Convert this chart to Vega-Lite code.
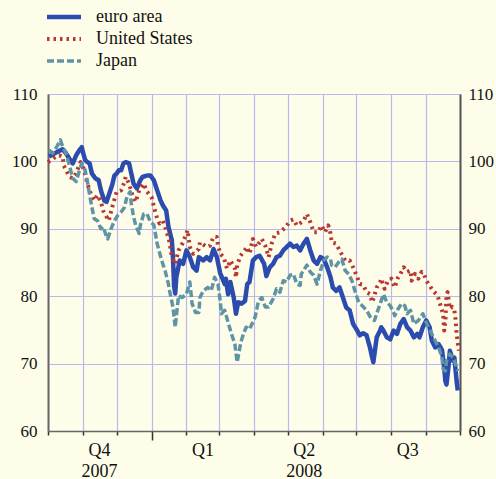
{
  "$schema": "https://vega.github.io/schema/vega-lite/v6.json",
  "width": 412,
  "height": 337,
  "autosize": {"type": "none"},
  "padding": {"left": 48, "top": 94, "right": 36, "bottom": 48},
  "background": "#fdfde9",
  "config": {"view": {"stroke": null, "fill": "#fdfde9"}},
  "data": {"values": [
{"series":"euro area","date":"2007-10-02","value":100.7},{"series":"euro area","date":"2007-10-09","value":101.4},{"series":"euro area","date":"2007-10-14","value":101.8},{"series":"euro area","date":"2007-10-17","value":101.2},{"series":"euro area","date":"2007-10-20","value":100.4},{"series":"euro area","date":"2007-10-23","value":99.7},{"series":"euro area","date":"2007-10-26","value":100.9},{"series":"euro area","date":"2007-10-29","value":101.7},{"series":"euro area","date":"2007-10-31","value":102.1},{"series":"euro area","date":"2007-11-01","value":101.4},{"series":"euro area","date":"2007-11-03","value":100.2},{"series":"euro area","date":"2007-11-05","value":99.9},{"series":"euro area","date":"2007-11-07","value":99.7},{"series":"euro area","date":"2007-11-09","value":98.2},{"series":"euro area","date":"2007-11-12","value":97.5},{"series":"euro area","date":"2007-11-15","value":97.2},{"series":"euro area","date":"2007-11-17","value":95.7},{"series":"euro area","date":"2007-11-20","value":94.2},{"series":"euro area","date":"2007-11-22","value":94.0},{"series":"euro area","date":"2007-11-24","value":95.0},{"series":"euro area","date":"2007-11-27","value":96.5},{"series":"euro area","date":"2007-11-29","value":97.9},{"series":"euro area","date":"2007-12-01","value":98.2},{"series":"euro area","date":"2007-12-03","value":98.7},{"series":"euro area","date":"2007-12-05","value":98.7},{"series":"euro area","date":"2007-12-07","value":99.7},{"series":"euro area","date":"2007-12-09","value":99.9},{"series":"euro area","date":"2007-12-12","value":99.7},{"series":"euro area","date":"2007-12-14","value":98.2},{"series":"euro area","date":"2007-12-16","value":96.7},{"series":"euro area","date":"2007-12-19","value":96.0},{"series":"euro area","date":"2007-12-22","value":97.2},{"series":"euro area","date":"2007-12-24","value":97.7},{"series":"euro area","date":"2007-12-28","value":97.9},{"series":"euro area","date":"2007-12-31","value":97.9},
{"series":"euro area","date":"2008-01-03","value":97.2},{"series":"euro area","date":"2008-01-06","value":95.7},{"series":"euro area","date":"2008-01-09","value":94.2},{"series":"euro area","date":"2008-01-11","value":93.5},{"series":"euro area","date":"2008-01-14","value":92.7},{"series":"euro area","date":"2008-01-16","value":90.3},{"series":"euro area","date":"2008-01-19","value":88.3},{"series":"euro area","date":"2008-01-20","value":85.8},{"series":"euro area","date":"2008-01-21","value":81.5},{"series":"euro area","date":"2008-01-22","value":80.4},{"series":"euro area","date":"2008-01-23","value":82.8},{"series":"euro area","date":"2008-01-26","value":85.3},{"series":"euro area","date":"2008-01-29","value":84.8},{"series":"euro area","date":"2008-02-01","value":86.8},{"series":"euro area","date":"2008-02-04","value":85.8},{"series":"euro area","date":"2008-02-07","value":84.3},{"series":"euro area","date":"2008-02-10","value":83.8},{"series":"euro area","date":"2008-02-12","value":85.8},{"series":"euro area","date":"2008-02-16","value":85.3},{"series":"euro area","date":"2008-02-19","value":85.8},{"series":"euro area","date":"2008-02-22","value":85.3},{"series":"euro area","date":"2008-02-25","value":87.0},{"series":"euro area","date":"2008-02-28","value":85.8},{"series":"euro area","date":"2008-03-02","value":83.4},{"series":"euro area","date":"2008-03-04","value":82.6},{"series":"euro area","date":"2008-03-06","value":81.8},{"series":"euro area","date":"2008-03-07","value":82.6},{"series":"euro area","date":"2008-03-09","value":80.3},{"series":"euro area","date":"2008-03-11","value":82.1},{"series":"euro area","date":"2008-03-14","value":79.8},{"series":"euro area","date":"2008-03-16","value":77.4},{"series":"euro area","date":"2008-03-18","value":79.1},{"series":"euro area","date":"2008-03-21","value":78.9},{"series":"euro area","date":"2008-03-24","value":79.3},{"series":"euro area","date":"2008-03-26","value":81.8},{"series":"euro area","date":"2008-03-28","value":82.1},{"series":"euro area","date":"2008-03-31","value":85.3},
{"series":"euro area","date":"2008-04-03","value":85.8},{"series":"euro area","date":"2008-04-06","value":86.0},{"series":"euro area","date":"2008-04-10","value":84.8},{"series":"euro area","date":"2008-04-12","value":83.0},{"series":"euro area","date":"2008-04-15","value":84.3},{"series":"euro area","date":"2008-04-18","value":84.8},{"series":"euro area","date":"2008-04-21","value":85.8},{"series":"euro area","date":"2008-04-24","value":86.0},{"series":"euro area","date":"2008-04-27","value":86.8},{"series":"euro area","date":"2008-04-30","value":87.3},{"series":"euro area","date":"2008-05-03","value":87.8},{"series":"euro area","date":"2008-05-06","value":87.3},{"series":"euro area","date":"2008-05-09","value":87.5},{"series":"euro area","date":"2008-05-12","value":86.8},{"series":"euro area","date":"2008-05-15","value":87.8},{"series":"euro area","date":"2008-05-18","value":88.5},{"series":"euro area","date":"2008-05-21","value":86.8},{"series":"euro area","date":"2008-05-24","value":85.3},{"series":"euro area","date":"2008-05-27","value":84.8},{"series":"euro area","date":"2008-05-30","value":85.8},{"series":"euro area","date":"2008-06-02","value":85.5},{"series":"euro area","date":"2008-06-05","value":84.3},{"series":"euro area","date":"2008-06-08","value":82.8},{"series":"euro area","date":"2008-06-10","value":81.3},{"series":"euro area","date":"2008-06-13","value":80.8},{"series":"euro area","date":"2008-06-16","value":81.3},{"series":"euro area","date":"2008-06-19","value":79.8},{"series":"euro area","date":"2008-06-22","value":78.3},{"series":"euro area","date":"2008-06-25","value":77.9},{"series":"euro area","date":"2008-06-28","value":75.9},
{"series":"euro area","date":"2008-07-01","value":75.1},{"series":"euro area","date":"2008-07-04","value":74.2},{"series":"euro area","date":"2008-07-07","value":74.5},{"series":"euro area","date":"2008-07-10","value":74.2},{"series":"euro area","date":"2008-07-13","value":72.4},{"series":"euro area","date":"2008-07-15","value":70.9},{"series":"euro area","date":"2008-07-16","value":70.2},{"series":"euro area","date":"2008-07-17","value":71.4},{"series":"euro area","date":"2008-07-19","value":73.9},{"series":"euro area","date":"2008-07-22","value":74.9},{"series":"euro area","date":"2008-07-23","value":75.4},{"series":"euro area","date":"2008-07-25","value":74.9},{"series":"euro area","date":"2008-07-28","value":73.9},{"series":"euro area","date":"2008-07-31","value":73.6},{"series":"euro area","date":"2008-08-03","value":74.9},{"series":"euro area","date":"2008-08-06","value":74.4},{"series":"euro area","date":"2008-08-09","value":75.9},{"series":"euro area","date":"2008-08-12","value":76.6},{"series":"euro area","date":"2008-08-15","value":75.4},{"series":"euro area","date":"2008-08-18","value":74.9},{"series":"euro area","date":"2008-08-21","value":73.9},{"series":"euro area","date":"2008-08-24","value":74.4},{"series":"euro area","date":"2008-08-26","value":73.9},{"series":"euro area","date":"2008-08-29","value":75.4},{"series":"euro area","date":"2008-09-01","value":76.4},{"series":"euro area","date":"2008-09-04","value":75.4},{"series":"euro area","date":"2008-09-06","value":73.4},{"series":"euro area","date":"2008-09-09","value":72.4},{"series":"euro area","date":"2008-09-12","value":72.9},{"series":"euro area","date":"2008-09-15","value":72.0},{"series":"euro area","date":"2008-09-17","value":69.4},{"series":"euro area","date":"2008-09-18","value":67.4},{"series":"euro area","date":"2008-09-19","value":66.9},{"series":"euro area","date":"2008-09-21","value":69.9},{"series":"euro area","date":"2008-09-22","value":71.9},{"series":"euro area","date":"2008-09-25","value":70.4},{"series":"euro area","date":"2008-09-26","value":70.9},{"series":"euro area","date":"2008-09-28","value":67.4},{"series":"euro area","date":"2008-09-29","value":66.0},
{"series":"United States","date":"2007-10-01","value":99.9},{"series":"United States","date":"2007-10-08","value":100.7},{"series":"United States","date":"2007-10-11","value":100.9},{"series":"United States","date":"2007-10-14","value":100.7},{"series":"United States","date":"2007-10-15","value":99.4},{"series":"United States","date":"2007-10-20","value":97.7},{"series":"United States","date":"2007-10-23","value":97.5},{"series":"United States","date":"2007-10-26","value":98.2},{"series":"United States","date":"2007-10-27","value":98.7},{"series":"United States","date":"2007-10-30","value":99.9},{"series":"United States","date":"2007-11-02","value":98.7},{"series":"United States","date":"2007-11-05","value":96.7},{"series":"United States","date":"2007-11-08","value":95.2},{"series":"United States","date":"2007-11-11","value":94.2},{"series":"United States","date":"2007-11-14","value":95.0},{"series":"United States","date":"2007-11-17","value":94.0},{"series":"United States","date":"2007-11-19","value":92.7},{"series":"United States","date":"2007-11-22","value":91.8},{"series":"United States","date":"2007-11-24","value":91.2},{"series":"United States","date":"2007-11-27","value":93.2},{"series":"United States","date":"2007-12-01","value":95.5},{"series":"United States","date":"2007-12-05","value":95.7},{"series":"United States","date":"2007-12-08","value":97.0},{"series":"United States","date":"2007-12-09","value":97.7},{"series":"United States","date":"2007-12-12","value":96.7},{"series":"United States","date":"2007-12-15","value":95.0},{"series":"United States","date":"2007-12-18","value":94.0},{"series":"United States","date":"2007-12-21","value":95.7},{"series":"United States","date":"2007-12-25","value":96.7},{"series":"United States","date":"2007-12-28","value":95.5},
{"series":"United States","date":"2008-01-01","value":94.7},{"series":"United States","date":"2008-01-04","value":92.7},{"series":"United States","date":"2008-01-06","value":91.5},{"series":"United States","date":"2008-01-08","value":90.8},{"series":"United States","date":"2008-01-11","value":91.2},{"series":"United States","date":"2008-01-14","value":89.8},{"series":"United States","date":"2008-01-17","value":88.0},{"series":"United States","date":"2008-01-19","value":85.8},{"series":"United States","date":"2008-01-22","value":84.8},{"series":"United States","date":"2008-01-25","value":86.8},{"series":"United States","date":"2008-01-29","value":88.0},{"series":"United States","date":"2008-02-02","value":89.8},{"series":"United States","date":"2008-02-04","value":87.3},{"series":"United States","date":"2008-02-07","value":86.3},{"series":"United States","date":"2008-02-12","value":87.0},{"series":"United States","date":"2008-02-13","value":88.0},{"series":"United States","date":"2008-02-19","value":87.3},{"series":"United States","date":"2008-02-22","value":87.5},{"series":"United States","date":"2008-02-25","value":88.8},{"series":"United States","date":"2008-02-28","value":88.8},{"series":"United States","date":"2008-02-29","value":87.5},{"series":"United States","date":"2008-03-02","value":86.3},{"series":"United States","date":"2008-03-05","value":85.8},{"series":"United States","date":"2008-03-08","value":84.1},{"series":"United States","date":"2008-03-11","value":85.3},{"series":"United States","date":"2008-03-15","value":84.1},{"series":"United States","date":"2008-03-16","value":82.8},{"series":"United States","date":"2008-03-17","value":84.6},{"series":"United States","date":"2008-03-20","value":86.0},{"series":"United States","date":"2008-03-26","value":87.3},{"series":"United States","date":"2008-03-28","value":86.3},{"series":"United States","date":"2008-03-31","value":88.5},
{"series":"United States","date":"2008-04-03","value":87.3},{"series":"United States","date":"2008-04-08","value":88.5},{"series":"United States","date":"2008-04-11","value":87.5},{"series":"United States","date":"2008-04-14","value":85.8},{"series":"United States","date":"2008-04-17","value":88.0},{"series":"United States","date":"2008-04-20","value":89.3},{"series":"United States","date":"2008-04-24","value":89.5},{"series":"United States","date":"2008-04-29","value":90.2},{"series":"United States","date":"2008-05-03","value":91.2},{"series":"United States","date":"2008-05-06","value":91.4},{"series":"United States","date":"2008-05-09","value":90.5},{"series":"United States","date":"2008-05-15","value":91.2},{"series":"United States","date":"2008-05-18","value":92.2},{"series":"United States","date":"2008-05-21","value":91.0},{"series":"United States","date":"2008-05-24","value":89.5},{"series":"United States","date":"2008-05-28","value":89.5},{"series":"United States","date":"2008-05-31","value":90.5},{"series":"United States","date":"2008-06-03","value":89.5},{"series":"United States","date":"2008-06-06","value":90.5},{"series":"United States","date":"2008-06-08","value":89.3},{"series":"United States","date":"2008-06-09","value":88.0},{"series":"United States","date":"2008-06-13","value":87.8},{"series":"United States","date":"2008-06-16","value":86.8},{"series":"United States","date":"2008-06-21","value":85.3},{"series":"United States","date":"2008-06-25","value":85.3},{"series":"United States","date":"2008-06-28","value":84.3},
{"series":"United States","date":"2008-07-01","value":83.1},{"series":"United States","date":"2008-07-04","value":81.8},{"series":"United States","date":"2008-07-07","value":81.7},{"series":"United States","date":"2008-07-10","value":80.6},{"series":"United States","date":"2008-07-13","value":80.3},{"series":"United States","date":"2008-07-15","value":79.1},{"series":"United States","date":"2008-07-17","value":80.1},{"series":"United States","date":"2008-07-19","value":81.3},{"series":"United States","date":"2008-07-22","value":82.1},{"series":"United States","date":"2008-07-23","value":82.6},{"series":"United States","date":"2008-07-26","value":81.1},{"series":"United States","date":"2008-07-29","value":82.3},{"series":"United States","date":"2008-08-01","value":82.6},{"series":"United States","date":"2008-08-04","value":81.3},{"series":"United States","date":"2008-08-07","value":82.8},{"series":"United States","date":"2008-08-09","value":83.3},{"series":"United States","date":"2008-08-12","value":84.3},{"series":"United States","date":"2008-08-15","value":83.6},{"series":"United States","date":"2008-08-18","value":83.8},{"series":"United States","date":"2008-08-19","value":82.3},{"series":"United States","date":"2008-08-22","value":83.3},{"series":"United States","date":"2008-08-25","value":82.6},{"series":"United States","date":"2008-08-28","value":83.6},{"series":"United States","date":"2008-08-30","value":83.3},{"series":"United States","date":"2008-09-01","value":82.3},{"series":"United States","date":"2008-09-04","value":81.6},{"series":"United States","date":"2008-09-07","value":80.8},{"series":"United States","date":"2008-09-10","value":80.3},{"series":"United States","date":"2008-09-12","value":79.6},{"series":"United States","date":"2008-09-14","value":78.4},{"series":"United States","date":"2008-09-16","value":77.4},{"series":"United States","date":"2008-09-17","value":74.9},{"series":"United States","date":"2008-09-18","value":76.4},{"series":"United States","date":"2008-09-19","value":80.3},{"series":"United States","date":"2008-09-20","value":80.6},{"series":"United States","date":"2008-09-22","value":78.1},{"series":"United States","date":"2008-09-24","value":78.4},{"series":"United States","date":"2008-09-26","value":77.9},{"series":"United States","date":"2008-09-27","value":76.6},{"series":"United States","date":"2008-09-28","value":74.4},{"series":"United States","date":"2008-09-29","value":73.1},{"series":"United States","date":"2008-09-30","value":71.9},
{"series":"Japan","date":"2007-10-02","value":101.7},{"series":"Japan","date":"2007-10-05","value":101.2},{"series":"Japan","date":"2007-10-09","value":102.2},{"series":"Japan","date":"2007-10-12","value":103.2},{"series":"Japan","date":"2007-10-14","value":102.2},{"series":"Japan","date":"2007-10-17","value":101.2},{"series":"Japan","date":"2007-10-20","value":99.4},{"series":"Japan","date":"2007-10-23","value":97.5},{"series":"Japan","date":"2007-10-26","value":97.0},{"series":"Japan","date":"2007-10-29","value":98.7},{"series":"Japan","date":"2007-10-31","value":99.7},{"series":"Japan","date":"2007-11-03","value":98.7},{"series":"Japan","date":"2007-11-05","value":97.0},{"series":"Japan","date":"2007-11-07","value":95.0},{"series":"Japan","date":"2007-11-09","value":93.2},{"series":"Japan","date":"2007-11-11","value":91.5},{"series":"Japan","date":"2007-11-14","value":91.2},{"series":"Japan","date":"2007-11-17","value":90.0},{"series":"Japan","date":"2007-11-19","value":90.3},{"series":"Japan","date":"2007-11-21","value":89.3},{"series":"Japan","date":"2007-11-23","value":88.5},{"series":"Japan","date":"2007-11-26","value":90.0},{"series":"Japan","date":"2007-11-29","value":91.2},{"series":"Japan","date":"2007-12-02","value":92.0},{"series":"Japan","date":"2007-12-05","value":92.5},{"series":"Japan","date":"2007-12-08","value":93.2},{"series":"Japan","date":"2007-12-10","value":94.7},{"series":"Japan","date":"2007-12-13","value":95.5},{"series":"Japan","date":"2007-12-14","value":93.7},{"series":"Japan","date":"2007-12-16","value":91.8},{"series":"Japan","date":"2007-12-18","value":90.5},{"series":"Japan","date":"2007-12-21","value":89.3},{"series":"Japan","date":"2007-12-22","value":90.5},{"series":"Japan","date":"2007-12-25","value":92.2},{"series":"Japan","date":"2007-12-28","value":92.2},{"series":"Japan","date":"2007-12-31","value":91.0},
{"series":"Japan","date":"2008-01-03","value":90.6},{"series":"Japan","date":"2008-01-06","value":87.8},{"series":"Japan","date":"2008-01-08","value":86.5},{"series":"Japan","date":"2008-01-10","value":85.3},{"series":"Japan","date":"2008-01-13","value":83.8},{"series":"Japan","date":"2008-01-16","value":81.8},{"series":"Japan","date":"2008-01-17","value":80.8},{"series":"Japan","date":"2008-01-20","value":78.4},{"series":"Japan","date":"2008-01-22","value":75.4},{"series":"Japan","date":"2008-01-25","value":80.1},{"series":"Japan","date":"2008-01-28","value":79.8},{"series":"Japan","date":"2008-02-01","value":80.3},{"series":"Japan","date":"2008-02-04","value":82.1},{"series":"Japan","date":"2008-02-06","value":78.9},{"series":"Japan","date":"2008-02-09","value":77.6},{"series":"Japan","date":"2008-02-12","value":77.6},{"series":"Japan","date":"2008-02-13","value":79.8},{"series":"Japan","date":"2008-02-16","value":80.8},{"series":"Japan","date":"2008-02-20","value":81.3},{"series":"Japan","date":"2008-02-23","value":80.8},{"series":"Japan","date":"2008-02-26","value":82.8},{"series":"Japan","date":"2008-02-29","value":81.8},{"series":"Japan","date":"2008-03-02","value":79.3},{"series":"Japan","date":"2008-03-03","value":77.4},{"series":"Japan","date":"2008-03-06","value":77.9},{"series":"Japan","date":"2008-03-09","value":76.1},{"series":"Japan","date":"2008-03-12","value":74.4},{"series":"Japan","date":"2008-03-15","value":72.9},{"series":"Japan","date":"2008-03-17","value":70.2},{"series":"Japan","date":"2008-03-20","value":72.9},{"series":"Japan","date":"2008-03-22","value":74.1},{"series":"Japan","date":"2008-03-25","value":75.4},{"series":"Japan","date":"2008-03-28","value":75.1},
{"series":"Japan","date":"2008-04-02","value":76.9},{"series":"Japan","date":"2008-04-05","value":79.3},{"series":"Japan","date":"2008-04-08","value":79.8},{"series":"Japan","date":"2008-04-11","value":78.4},{"series":"Japan","date":"2008-04-14","value":78.4},{"series":"Japan","date":"2008-04-18","value":79.6},{"series":"Japan","date":"2008-04-21","value":81.1},{"series":"Japan","date":"2008-04-24","value":80.6},{"series":"Japan","date":"2008-04-27","value":82.3},{"series":"Japan","date":"2008-04-30","value":82.1},{"series":"Japan","date":"2008-05-03","value":83.1},{"series":"Japan","date":"2008-05-06","value":83.3},{"series":"Japan","date":"2008-05-09","value":81.8},{"series":"Japan","date":"2008-05-12","value":81.6},{"series":"Japan","date":"2008-05-13","value":83.3},{"series":"Japan","date":"2008-05-18","value":84.6},{"series":"Japan","date":"2008-05-21","value":83.6},{"series":"Japan","date":"2008-05-24","value":83.1},{"series":"Japan","date":"2008-05-27","value":81.8},{"series":"Japan","date":"2008-05-30","value":83.8},{"series":"Japan","date":"2008-06-02","value":85.3},{"series":"Japan","date":"2008-06-05","value":85.8},{"series":"Japan","date":"2008-06-08","value":85.5},{"series":"Japan","date":"2008-06-09","value":84.6},{"series":"Japan","date":"2008-06-12","value":84.3},{"series":"Japan","date":"2008-06-15","value":85.0},{"series":"Japan","date":"2008-06-18","value":85.5},{"series":"Japan","date":"2008-06-21","value":83.8},{"series":"Japan","date":"2008-06-24","value":83.3},{"series":"Japan","date":"2008-06-27","value":82.3},{"series":"Japan","date":"2008-06-30","value":80.6},
{"series":"Japan","date":"2008-07-03","value":79.1},{"series":"Japan","date":"2008-07-06","value":78.6},{"series":"Japan","date":"2008-07-10","value":77.9},{"series":"Japan","date":"2008-07-13","value":77.0},{"series":"Japan","date":"2008-07-15","value":76.6},{"series":"Japan","date":"2008-07-17","value":76.4},{"series":"Japan","date":"2008-07-20","value":77.9},{"series":"Japan","date":"2008-07-23","value":79.3},{"series":"Japan","date":"2008-07-25","value":80.3},{"series":"Japan","date":"2008-07-28","value":79.1},{"series":"Japan","date":"2008-07-31","value":78.6},{"series":"Japan","date":"2008-08-03","value":77.6},{"series":"Japan","date":"2008-08-04","value":77.1},{"series":"Japan","date":"2008-08-07","value":78.1},{"series":"Japan","date":"2008-08-10","value":78.9},{"series":"Japan","date":"2008-08-13","value":78.6},{"series":"Japan","date":"2008-08-15","value":77.4},{"series":"Japan","date":"2008-08-18","value":77.9},{"series":"Japan","date":"2008-08-21","value":75.9},{"series":"Japan","date":"2008-08-25","value":76.4},{"series":"Japan","date":"2008-08-29","value":77.4},{"series":"Japan","date":"2008-09-01","value":76.1},{"series":"Japan","date":"2008-09-06","value":74.4},{"series":"Japan","date":"2008-09-09","value":73.4},{"series":"Japan","date":"2008-09-12","value":72.4},{"series":"Japan","date":"2008-09-15","value":70.9},{"series":"Japan","date":"2008-09-16","value":69.2},{"series":"Japan","date":"2008-09-18","value":68.9},{"series":"Japan","date":"2008-09-19","value":70.4},{"series":"Japan","date":"2008-09-22","value":71.4},{"series":"Japan","date":"2008-09-25","value":70.9},{"series":"Japan","date":"2008-09-26","value":70.4},{"series":"Japan","date":"2008-09-28","value":69.4},{"series":"Japan","date":"2008-09-29","value":68.9}
  ]},
  "layer": [
    {
      "mark": {"type": "line", "strokeCap": "butt", "strokeJoin": "round"},
      "encoding": {
        "x": {
          "field": "date", "type": "temporal",
          "scale": {"type": "utc", "domain": [{"year": 2007, "month": 10, "date": 1, "utc": true}, {"year": 2008, "month": 10, "date": 1, "utc": true}]},
          "axis": {
            "title": null,
            "values": [
              {"year": 2007, "month": 10, "date": 1, "utc": true},
              {"year": 2007, "month": 11, "date": 1, "utc": true},
              {"year": 2007, "month": 12, "date": 1, "utc": true},
              {"year": 2008, "month": 1, "date": 1, "utc": true},
              {"year": 2008, "month": 2, "date": 1, "utc": true},
              {"year": 2008, "month": 3, "date": 1, "utc": true},
              {"year": 2008, "month": 4, "date": 1, "utc": true},
              {"year": 2008, "month": 5, "date": 1, "utc": true},
              {"year": 2008, "month": 6, "date": 1, "utc": true},
              {"year": 2008, "month": 7, "date": 1, "utc": true},
              {"year": 2008, "month": 8, "date": 1, "utc": true},
              {"year": 2008, "month": 9, "date": 1, "utc": true},
              {"year": 2008, "month": 10, "date": 1, "utc": true}
            ],
            "labelExpr": "utcmonth(datum.value) == 10 ? ['Q4', '2007'] : utcmonth(datum.value) == 1 ? ['Q1', ''] : utcmonth(datum.value) == 4 ? ['Q2', '2008'] : utcmonth(datum.value) == 7 ? ['Q3', ''] : ''",
            "labelOffset": 16,
            "grid": true,
            "gridColor": "#b9b9ee",
            "gridWidth": 1.2,
            "ticks": true,
            "tickSize": {"condition": {"test": "utcmonth(datum.value) == 0", "value": 9}, "value": 4},
            "tickColor": "#333333",
            "tickWidth": 1.5,
            "domainColor": "#666666",
            "domainWidth": 1.5,
            "labelFont": "Liberation Serif",
            "labelFontSize": 18,
            "labelColor": "#111111",
            "labelPadding": 6,
            "labelLineHeight": 21,
            "labelAngle": 0,
            "labelOverlap": false,
            "labelFlush": false,
            "labelBound": false
          }
        },
        "y": {
          "field": "value", "type": "quantitative",
          "scale": {"domain": [60, 110], "nice": false, "zero": false},
          "axis": {
            "orient": "left", "title": null, "values": [60, 70, 80, 90, 100, 110],
            "grid": true, "gridColor": "#b9b9ee", "gridWidth": 1.2,
            "ticks": false, "tickSize": 0,
            "domainColor": "#666666", "domainWidth": 2,
            "labelFont": "Liberation Serif", "labelFontSize": 17, "labelColor": "#111111",
            "labelPadding": 11
          }
        },
        "color": {
          "field": "series", "type": "nominal",
          "scale": {"domain": ["euro area", "United States", "Japan"], "range": ["#2b4cae", "#b8372f", "#5e94a6"]},
          "legend": {
            "title": null, "orient": "none", "legendX": 7, "legendY": -86,
            "padding": 0,
            "symbolType": "M-3.4,0H3.4", "symbolSize": 100, "symbolStrokeWidth": 4,
            "labelFont": "Liberation Serif", "labelFontSize": 18, "labelColor": "#111111",
            "labelOffset": 23, "rowPadding": 4
          }
        },
        "strokeDash": {
          "field": "series", "type": "nominal",
          "scale": {"domain": ["euro area", "United States", "Japan"], "range": [[1, 0], [2.5, 4], [7, 3]]},
          "legend": {
            "title": null, "orient": "none", "legendX": 7, "legendY": -86,
            "padding": 0,
            "symbolType": "M-3.4,0H3.4", "symbolSize": 100, "symbolStrokeWidth": 4,
            "labelFont": "Liberation Serif", "labelFontSize": 18, "labelColor": "#111111",
            "labelOffset": 23, "rowPadding": 4
          }
        },
        "strokeWidth": {
          "field": "series", "type": "nominal",
          "scale": {"domain": ["euro area", "United States", "Japan"], "range": [4.5, 3.5, 4.5]},
          "legend": null
        }
      }
    },
    {
      "mark": {"type": "point", "opacity": 0},
      "encoding": {
        "y": {
          "field": "value", "type": "quantitative",
          "scale": {"domain": [60, 110], "nice": false, "zero": false},
          "axis": {
            "orient": "right", "title": null, "values": [60, 70, 80, 90, 100, 110],
            "grid": false, "ticks": false, "tickSize": 0,
            "domainColor": "#555555", "domainWidth": 2,
            "labelFont": "Liberation Serif", "labelFontSize": 17, "labelColor": "#111111",
            "labelPadding": 8
          }
        }
      }
    }
  ],
  "resolve": {"axis": {"y": "independent"}}
}
